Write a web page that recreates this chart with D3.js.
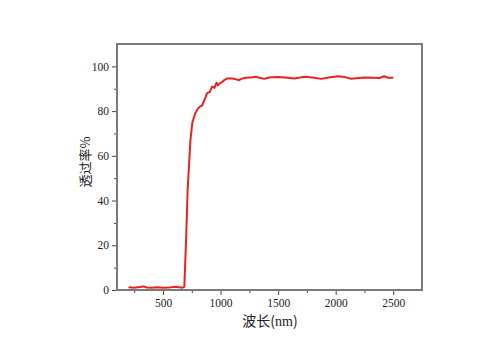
<!DOCTYPE html>
<html>
<head>
<meta charset="utf-8">
<script src="https://cdn.jsdelivr.net/npm/d3@7"></script>
<style>
  body { margin: 0; background: #fff; }
</style>
</head>
<body>
<div id="chart"></div>
<script>
// datos
const wavelength = [200, 250, 300, 330, 360, 400, 450, 500, 550, 600, 640, 670, 685, 700, 714, 738, 755, 780, 801, 820, 840, 860, 883, 906, 927, 947, 965, 976, 995, 1014, 1035, 1058, 1101, 1130, 1160, 1190, 1233, 1270, 1305, 1330, 1378, 1420, 1495, 1560, 1640, 1690, 1727, 1800, 1873, 1940, 2019, 2080, 2135, 2200, 2251, 2320, 2382, 2420, 2455, 2500];
const transmittance = [1.2, 1.0, 1.3, 1.6, 1.1, 1.0, 1.2, 1.0, 1.1, 1.4, 1.2, 1.0, 1.5, 22, 45, 67, 75, 79, 81, 82, 82.5, 85, 88, 88.5, 91, 90.4, 92.7, 91.5, 92.5, 93, 94, 94.6, 94.6, 94.3, 93.8, 94.6, 95, 95, 95.4, 95.0, 94.4, 95, 95.2, 95, 94.6, 95, 95.4, 95, 94.4, 95, 95.6, 95.2, 94.5, 94.8, 95, 94.9, 94.8, 95.6, 94.9, 94.9];
const xTicks = [500, 1000, 1500, 2000, 2500];
const xMinor = [250, 750, 1250, 1750, 2250];
const yTicks = [0, 20, 40, 60, 80, 100];
const yMinor = [10, 30, 50, 70, 90];

const W = 485, H = 350;
const margin = {top: 44, right: 63, bottom: 60, left: 117};
const width = W - margin.left - margin.right,
    height = H - margin.top - margin.bottom;

const svg = d3.select("#chart").append("svg")
    .attr("width", W)
    .attr("height", H);

const g = svg.append("g")
    .attr("transform", `translate(${margin.left}, ${margin.top})`);

const x = d3.scaleLinear().domain([100, 2750]).range([0, width]);
const y = d3.scaleLinear().domain([0, 110]).range([height, 0]);

const axisColor = "#7a7a7a";
const serif = "'Liberation Serif', 'DejaVu Serif', serif";

function styleAxis(s) {
    s.select(".domain").remove();
    s.selectAll("line").attr("stroke", "#444");
    s.selectAll("text")
        .style("font-family", serif)
        .style("font-size", "11.5px")
        .attr("fill", "#222");
}

// ticks menores
g.append("g")
    .attr("transform", `translate(0, ${height})`)
    .call(d3.axisBottom(x).tickValues(xMinor).tickSize(3).tickFormat(""))
    .call(styleAxis);

g.append("g")
    .call(d3.axisLeft(y).tickValues(yMinor).tickSize(3).tickFormat(""))
    .call(styleAxis);

// Eje X
g.append("g")
    .attr("transform", `translate(0, ${height})`)
    .call(d3.axisBottom(x).tickValues(xTicks).tickSize(5).tickPadding(4).tickFormat(d3.format("d")))
    .call(styleAxis);

// Eje Y
g.append("g")
    .call(d3.axisLeft(y).tickValues(yTicks).tickSize(5).tickPadding(3).tickFormat(d3.format("d")))
    .call(styleAxis);

// marco
g.append("rect")
    .attr("width", width)
    .attr("height", height)
    .attr("fill", "none")
    .attr("stroke", axisColor)
    .attr("stroke-width", 2);

// curva
const line = d3.line()
    .x((d, i) => x(wavelength[i]))
    .y(d => y(d));

g.append("path")
    .datum(transmittance)
    .attr("d", line)
    .attr("fill", "none")
    .attr("stroke", "#e8221e")
    .attr("stroke-width", 2)
    .attr("stroke-linejoin", "round");

// titulos de ejes
const xTitle = svg.append("text")
    .attr("x", 270)
    .attr("y", 326)
    .attr("text-anchor", "middle")
    .style("font-size", "14px")
    .style("fill", "#222");
xTitle.append("tspan").style("font-family", "'Noto Sans CJK SC', sans-serif").text("波长(");
xTitle.append("tspan").style("font-family", serif).text("nm");
xTitle.append("tspan").style("font-family", "'Noto Sans CJK SC', sans-serif").text(")");

svg.append("text")
    .attr("transform", `translate(90, 162) rotate(-90)`)
    .attr("text-anchor", "middle")
    .style("font-family", "'Noto Sans CJK SC', sans-serif")
    .style("font-size", "13px")
    .style("fill", "#222")
    .text("透过率%");
</script>
</body>
</html>
